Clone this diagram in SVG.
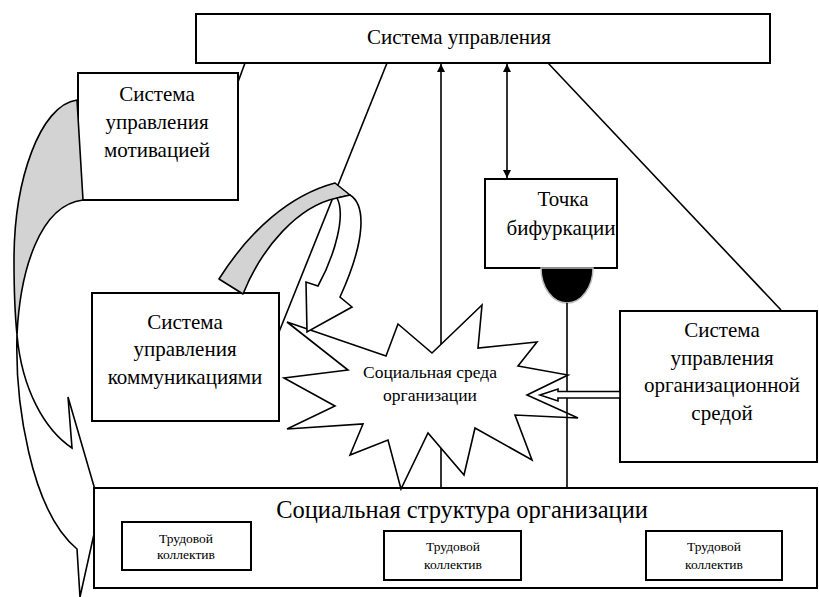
<svg xmlns="http://www.w3.org/2000/svg" width="819" height="597" viewBox="0 0 819 597">
<style>
.box{fill:#fff;stroke:#000;stroke-width:2}
.ln{fill:none;stroke:#000;stroke-width:1.6}
text{font-family:'Liberation Serif','Times New Roman',serif;fill:#000;text-anchor:middle}
.b{font-size:21px}
.s{font-size:13.5px}
.g{fill:#d3d3d3;stroke:#000;stroke-width:1.6;stroke-linejoin:round}
.w{fill:#fff;stroke:#000;stroke-width:1.6;stroke-linejoin:miter}
</style>
<defs>
<marker id="ah" viewBox="0 0 10 10" refX="10" refY="5" markerWidth="8" markerHeight="8" markerUnits="userSpaceOnUse" orient="auto-start-reverse">
<path d="M0,0 L10,5 L0,10 Z" fill="#000"/>
</marker>
</defs>
<rect width="819" height="597" fill="#fff"/>

<g id="connectors">
<line class="ln" x1="245" y1="63" x2="238" y2="82"/>
<line class="ln" x1="387" y1="63" x2="279" y2="332"/>
<line class="ln" x1="548" y1="63" x2="781" y2="310"/>
<line class="ln" x1="441" y1="488" x2="441" y2="64" marker-end="url(#ah)"/>
<line class="ln" x1="507" y1="64" x2="507" y2="178" marker-start="url(#ah)" marker-end="url(#ah)"/>
</g>

<g id="top">
<rect class="box" x="196" y="14" width="574" height="49"/>
<text class="b" x="459" y="44">Система управления</text>
</g>

<g id="motivation">
<rect class="box" x="78" y="73" width="160" height="127"/>
<text class="b" x="157" y="101">Система</text>
<text class="b" x="157" y="129">управления</text>
<text class="b" x="157" y="157">мотивацией</text>
</g>

<g id="curved-left">
<path class="g" d="M77,100 C40,105 14,180 14,260 C14,290 15,315 17,335 C20,270 40,205 83,200 Z"/>
<path class="w" d="M17,335 C15,400 30,510 77,549 L80,597 L100,507 L68,397 L72,448 C45,430 22,390 17,335 Z"/>
</g>

<g id="communications">
<rect class="box" x="92" y="293" width="187" height="128"/>
<text class="b" x="185" y="329">Система</text>
<text class="b" x="185" y="356">управления</text>
<text class="b" x="185" y="384">коммуникациями</text>
</g>

<g id="bifurcation">
<rect class="box" x="485" y="179" width="132" height="89"/>
<text class="b" x="563" y="206">Точка</text>
<text class="b" x="561" y="235">бифуркации</text>
<path d="M541,268 A26,35 0 0 0 593,268 Z" fill="#000" stroke="#bbb" stroke-width="1.5"/>
</g>

<g id="environment-system">
<rect class="box" x="620" y="311" width="197" height="151"/>
<text class="b" x="722" y="337">Система</text>
<text class="b" x="722" y="365">управления</text>
<text class="b" x="722" y="392">организационной</text>
<text class="b" x="722" y="420">средой</text>
</g>

<g id="structure">
<rect class="box" x="94" y="488" width="723" height="100"/>
<text font-size="24.5" x="462" y="518">Социальная структура организации</text>
<g id="team1">
<rect class="box" x="122" y="522" width="129" height="48"/>
<text class="s" x="186" y="543">Трудовой</text>
<text class="s" x="186" y="559">коллектив</text>
</g>
<g id="team2">
<rect class="box" x="384" y="531" width="137" height="49"/>
<text class="s" x="453" y="551">Трудовой</text>
<text class="s" x="453" y="569">коллектив</text>
</g>
<g id="team3">
<rect class="box" x="646" y="531" width="136" height="49"/>
<text class="s" x="714" y="551">Трудовой</text>
<text class="s" x="714" y="569">коллектив</text>
</g>
</g>

<g id="social-environment">
<polygon class="w" points="287,322 386,356 398,324 432,353 482,305 478,348 537,342 518,366 568,375 527,395 578,418 515,415 532,460 475,428 464,475 428,433 401,489 388,440 350,455 363,424 287,429 335,406 284,378 348,370"/>
<text font-size="17.5" x="430" y="378">Социальная среда</text>
<text font-size="17.5" x="430" y="401">организации</text>
</g>

<g id="connectors-top">
<line class="ln" x1="567" y1="303" x2="567" y2="488"/>
<polygon class="w" points="540,395 558,389 558,391.5 620,391.5 620,398 558,398 558,401"/>
</g>

<g id="curved-mid">
<path class="g" d="M219,279 C250,230 290,195 335,183 L350,195 L337,198 C298,206 262,247 243,294 Z"/>
<path class="w" d="M350,195 C366,205 366,240 340,297 L352,307 L307,332 L306,282 L318,286 C335,255 346,215 337,198 Z"/>
</g>
</svg>
